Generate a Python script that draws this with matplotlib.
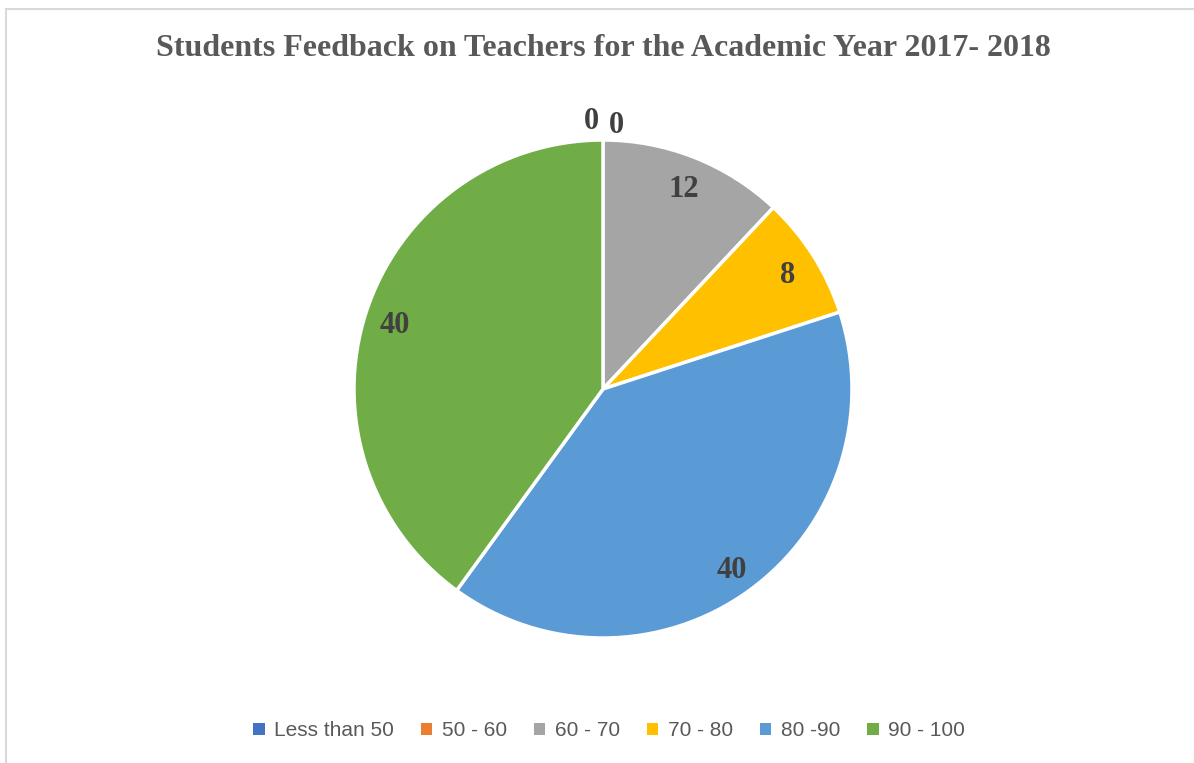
import numpy as np
import matplotlib.pyplot as plt
from matplotlib.patches import Rectangle

categories = ["Less than 50", "50 - 60", "60 - 70", "70 - 80", "80 -90", "90 - 100"]
values = [0, 0, 12, 8, 40, 40]
colors = ["#4472C4", "#ED7D31", "#A5A5A5", "#FFC000", "#5B9BD5", "#70AD47"]

fig = plt.figure(figsize=(11.94, 7.63), dpi=100)
W, H = 1194, 763

# light chart border (left/top visible)
fig.patches.append(Rectangle((6 / W, -0.1), 1.2, 1 - 9 / H + 0.1, transform=fig.transFigure,
                             fill=False, edgecolor="#D9D9D9", linewidth=1.5))

fig.text(603 / W, 1 - 49 / H, "Students Feedback on Teachers for the Academic Year 2017- 2018",
         ha="center", va="center", fontsize=23, fontweight="bold",
         family="Liberation Serif", color="#595959")

cx, cy, r = 603, 389, 249
ax = fig.add_axes([(cx - r) / W, (H - cy - r) / H, 2 * r / W, 2 * r / H])
wedges, _ = ax.pie(values, colors=colors, startangle=90, counterclock=False,
                   wedgeprops=dict(edgecolor="white", linewidth=2.5))
ax.set_xlim(-1, 1)
ax.set_ylim(-1, 1)
ax.set_aspect("equal")

zero_shift = [-0.045, 0.052]
zi = 0
for w, v in zip(wedges, values):
    mid = np.deg2rad((w.theta1 + w.theta2) / 2)
    if v == 0:
        x = 1.08 * np.cos(mid) + zero_shift[zi]
        y = 1.08 * np.sin(mid) + (0.01 if zi == 0 else -0.005)
        zi += 1
    else:
        x = 0.88 * np.cos(mid)
        y = 0.88 * np.sin(mid)
    ax.text(x, y - 0.016, str(v), ha="center", va="center", fontsize=22, fontweight="bold",
            family="Liberation Serif", color="#404040", clip_on=False)

leg = fig.legend(wedges, categories, loc="center", bbox_to_anchor=(609 / W, 1 - 731 / H),
                 ncol=6, frameon=False, handlelength=0.55, handleheight=0.55,
                 handletextpad=0.45, columnspacing=1.3,
                 prop=dict(family="Liberation Sans", size=15))
for t in leg.get_texts():
    t.set_color("#595959")
for hnd in leg.legend_handles:
    hnd.set_edgecolor("none")

fig.savefig("out.png", dpi=100)
